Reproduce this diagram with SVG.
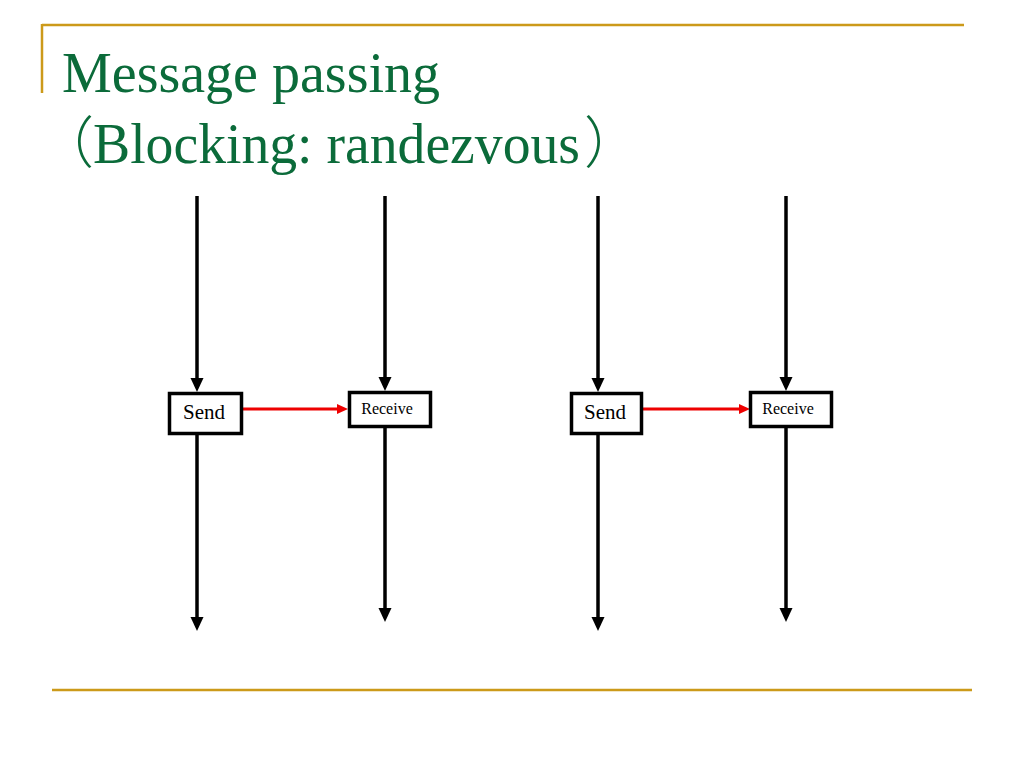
<svg xmlns="http://www.w3.org/2000/svg" width="1024" height="768" viewBox="0 0 1024 768">
  <style>
    .title { font-family: "Liberation Serif", "Noto Sans CJK JP", serif; font-size: 56px; fill: #0b6b3a; }
    .paren { font-family: "Noto Sans CJK JP", "Liberation Serif", serif; font-weight: 300; }
    .rule { stroke: #cc9a1a; stroke-width: 2.5; fill: none; }
    .box { fill: #ffffff; stroke: #000000; stroke-width: 3.5; }
    .life { stroke: #000000; stroke-width: 3.5; fill: none; }
    .msg { stroke: #ee0000; stroke-width: 3; fill: none; }
    .lbl { font-family: "Liberation Serif", serif; fill: #000000; text-anchor: middle; }
    .big { font-size: 21px; }
    .small { font-size: 16px; }
  </style>
  <defs>
    <marker id="blk" markerUnits="userSpaceOnUse" markerWidth="15" markerHeight="14" refX="8" refY="6.5" orient="auto">
      <polygon points="0,0 14,6.5 0,13" fill="#000000"/>
    </marker>
    <marker id="red" markerUnits="userSpaceOnUse" markerWidth="12" markerHeight="11" refX="6" refY="5" orient="auto">
      <polygon points="0,0 11,5 0,10" fill="#ee0000"/>
    </marker>
  </defs>
  <rect x="0" y="0" width="1024" height="768" fill="#ffffff"/>

  <g id="frame">
    <line class="rule" x1="42" y1="25" x2="964" y2="25"/>
    <line class="rule" x1="42" y1="24" x2="42" y2="93"/>
    <line class="rule" x1="52" y1="690" x2="972" y2="690"/>
  </g>

  <g id="title">
    <text class="title" x="62" y="92" textLength="378" lengthAdjust="spacingAndGlyphs">Message passing</text>
    <text class="title" y="163"><tspan class="paren" x="38">（</tspan><tspan x="93" textLength="487" lengthAdjust="spacingAndGlyphs">Blocking: randezvous</tspan><tspan class="paren" x="584">）</tspan></text>
  </g>

  <g id="connectors">
    <line class="life" x1="197" y1="196" x2="197" y2="386" marker-end="url(#blk)"/>
    <line class="life" x1="197" y1="435" x2="197" y2="625" marker-end="url(#blk)"/>
    <line class="life" x1="385" y1="196" x2="385" y2="385" marker-end="url(#blk)"/>
    <line class="life" x1="385" y1="428" x2="385" y2="616" marker-end="url(#blk)"/>
    <line class="msg" x1="243" y1="409" x2="343" y2="409" marker-end="url(#red)"/>

    <line class="life" x1="598" y1="196" x2="598" y2="386" marker-end="url(#blk)"/>
    <line class="life" x1="598" y1="435" x2="598" y2="625" marker-end="url(#blk)"/>
    <line class="life" x1="786" y1="196" x2="786" y2="385" marker-end="url(#blk)"/>
    <line class="life" x1="786" y1="428" x2="786" y2="616" marker-end="url(#blk)"/>
    <line class="msg" x1="643" y1="409" x2="745" y2="409" marker-end="url(#red)"/>
  </g>

  <g id="send1">
    <rect class="box" x="169.5" y="393.5" width="72" height="40"/>
    <text class="lbl big" x="204" y="419">Send</text>
  </g>
  <g id="receive1">
    <rect class="box" x="349.5" y="392.5" width="81" height="34"/>
    <text class="lbl small" x="387" y="414">Receive</text>
  </g>
  <g id="send2">
    <rect class="box" x="571.5" y="393.5" width="70" height="40"/>
    <text class="lbl big" x="605" y="419">Send</text>
  </g>
  <g id="receive2">
    <rect class="box" x="750.5" y="392.5" width="81" height="34"/>
    <text class="lbl small" x="788" y="414">Receive</text>
  </g>
</svg>
